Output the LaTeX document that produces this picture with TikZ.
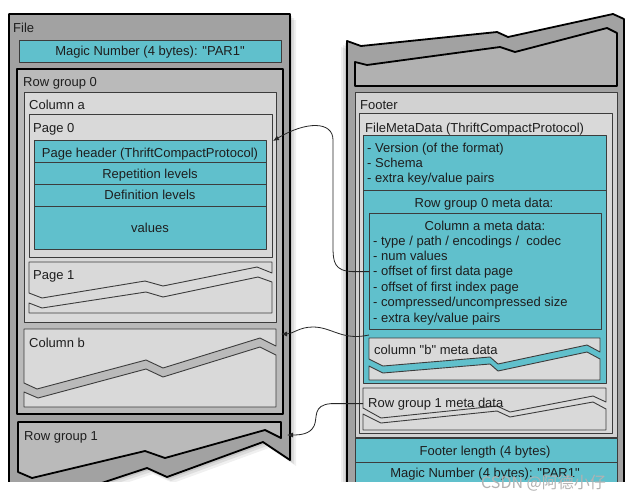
\documentclass[tikz,border=0pt]{standalone}
\usepackage{fontspec}
\setmainfont{Liberation Sans}[Ligatures=TeXOff]
\newfontfamily\cjkfont{Noto Sans CJK SC}
\usetikzlibrary{arrows.meta}
\definecolor{cy}{HTML}{60C0CC}
\definecolor{panelgray}{HTML}{A2A2A2}
\definecolor{rggray}{HTML}{BABABA}
\definecolor{ltgray}{HTML}{D9D9D9}
\definecolor{ftgray}{HTML}{D2D2D2}
\definecolor{edge}{HTML}{3C3C3C}
\definecolor{txt}{HTML}{1E1E1E}
\begin{document}
\begin{tikzpicture}[x=1pt,y=-1pt,
  heavy/.style={draw=black,line width=1.8pt,line join=round},
  light/.style={draw=edge,line width=0.9pt,line join=round},
  rect/.style={rectangle,inner sep=0pt,outer sep=0pt,anchor=north west},
  lbl/.style={anchor=base west,inner sep=0pt,text=txt,font=\fontsize{13}{15}\selectfont},
  clbl/.style={anchor=base,inner sep=0pt,text=txt,font=\fontsize{13}{15}\selectfont},
  conn/.style={draw=black!85,line width=0.8pt,-{Latex[length=6pt,width=5pt]}},
]
\useasboundingbox (0,0) rectangle (633,499);
\fill[white] (0,0) rectangle (633,499);
\begin{scope}
\clip (0,0) rectangle (633,481);
% shadows
\foreach \s/\o in {2/0.10,4/0.08,6/0.06}{
  \fill[black,opacity=\o,shift={(\s,\s)}] (9,14) -- (290,14) -- (290,460) -- (263,442) -- (167,477) -- (147,468) -- (35,505) -- (9,505) -- cycle;
  \fill[black,opacity=\o,shift={(-\s,\s)}] (347,41) -- (361,46) -- (497,32) -- (508,37) -- (613,14) -- (624,19) -- (624,505) -- (347,505) -- cycle;
}
% ===== left panel =====
\path[heavy,fill=panelgray] (9,14) -- (290,14) -- (290,460) -- (263,442) -- (167,477) -- (147,468) -- (35,505) -- (9,505) -- cycle;
\node[lbl] (tfile) at (13,32) {File};
\node[rect,light,fill=cy,minimum width=262,minimum height=22] (magic1) at (19,40) {};
\node[clbl] (tmagic1) at (150,55) {Magic Number (4 bytes): "PAR1"};
\node[rect,heavy,fill=rggray,minimum width=266,minimum height=345] (rg0) at (17,69) {};
\node[lbl] (trg0) at (23,86) {Row group 0};
\node[rect,light,fill=ltgray,minimum width=252,minimum height=230] (cola) at (24,92) {};
\node[lbl] (tcola) at (29,109) {Column a};
\node[rect,light,fill=ltgray,minimum width=243,minimum height=143] (page0) at (29,114) {};
\node[lbl] (tpage0) at (33,132) {Page 0};
\node[rect,light,fill=cy,minimum width=232,minimum height=22] (ph) at (34,140) {};
\node[rect,light,fill=cy,minimum width=232,minimum height=22] (rep) at (34,162) {};
\node[rect,light,fill=cy,minimum width=232,minimum height=22] (def) at (34,184) {};
\node[rect,light,fill=cy,minimum width=232,minimum height=43] (val) at (34,206) {};
\node[clbl] (tph) at (150,157) {Page header (ThriftCompactProtocol)};
\node[clbl] (trep) at (150,178) {Repetition levels};
\node[clbl] (tdef) at (150,199) {Definition levels};
\node[clbl] (tval) at (150,232) {values};
% page 1 (torn)
\node[rect,minimum width=243,minimum height=51] (page1) at (29,262) {};
\path[light,fill=ltgray] (29,262) -- (272,262) -- (272,273) -- (257,267) -- (163,286) -- (145,281) -- (42,298) -- (29,293) -- cycle;
\path[light,fill=ltgray] (29,303) -- (42,308) -- (146,292) -- (163,297) -- (258,277) -- (272,282) -- (272,313) -- (29,313) -- cycle;
\node[lbl] (tpage1) at (33,279) {Page 1};
% column b (torn)
\node[rect,minimum width=252,minimum height=78] (colb) at (24,329) {};
\path[light,fill=ltgray] (24,329) -- (276,329) -- (276,346) -- (260,338) -- (163,368) -- (146,360) -- (37,389) -- (24,383) -- cycle;
\path[light,fill=ltgray] (24,392) -- (38,398) -- (146,369) -- (163,377) -- (260,347) -- (276,355) -- (276,407) -- (24,407) -- cycle;
\node[lbl] (tcolb) at (29,347) {Column b};
% row group 1 (torn)
\node[rect,minimum width=263,minimum height=16] (rg1) at (18,422) {};
\path[heavy,fill=rggray] (18,422) -- (281,422) -- (281,438) -- (265,430) -- (165,458) -- (145,451) -- (32,478) -- (18,472) -- cycle;
\node[lbl] (trg1) at (24,440) {Row group 1};
% ===== right panel =====
\path[heavy,fill=panelgray] (347,41) -- (361,46) -- (497,32) -- (508,37) -- (613,14) -- (624,19) -- (624,505) -- (347,505) -- cycle;
\path[heavy,fill=rggray!95!black] (355,62) -- (367,65) -- (500,47) -- (515,52) -- (607,28) -- (617,33) -- (617,86) -- (355,86) -- cycle;
\node[rect,light,fill=ftgray,minimum width=262,minimum height=345] (footer) at (355,92) {};
\node[lbl] (tfooter) at (360,109) {Footer};
\node[rect,light,fill=ltgray,minimum width=253,minimum height=320] (fmd) at (359,113) {};
\node[lbl] (tfmd) at (365,132) {FileMetaData (ThriftCompactProtocol)};
\node[rect,light,fill=cy,minimum width=243,minimum height=55] (cy1) at (363,135) {};
\node[rect,light,fill=cy,minimum width=243,minimum height=193] (cy2) at (363,190) {};
\node[lbl] (tv1) at (367,152) {- Version (of the format)};
\node[lbl] (tv2) at (367,167) {- Schema};
\node[lbl] (tv3) at (367,182) {- extra key/value pairs};
\node[clbl] (trgm) at (484,207) {Row group 0 meta data:};
\node[rect,light,fill=cy,minimum width=232,minimum height=116] (camd) at (369,213) {};
\node[clbl] (tcam) at (485,230) {Column a meta data:};
\node[lbl] (ta1) at (373,245) {- type / path / encodings / \ codec};
\node[lbl] (ta2) at (373,260) {- num values};
\node[lbl] (ta3) at (373,275) {- offset of first data page};
\node[lbl] (ta4) at (373,291) {- offset of first index page};
\node[lbl] (ta5) at (373,306) {- compressed/uncompressed size};
\node[lbl] (ta6) at (373,322) {- extra key/value pairs};
% column b meta (torn)
\node[rect,minimum width=231,minimum height=42] (cbm) at (369,338) {};
\path[light,fill=ltgray] (369,338) -- (600,338) -- (600,352) -- (587,345) -- (498,364) -- (490,357) -- (383,366) -- (369,359) -- cycle;
\path[light,fill=ltgray] (369,366) -- (383,373) -- (490,364) -- (498,371) -- (587,352) -- (600,359) -- (600,380) -- (369,380) -- cycle;
\node[lbl] (tcbm) at (374,354) {column "b" meta data};
% row group 1 meta (torn)
\node[rect,minimum width=243,minimum height=42] (rg1m) at (363,388) {};
\path[light,fill=ltgray] (363,388) -- (606,388) -- (606,402) -- (593,396) -- (510,412) -- (497,406) -- (381,418) -- (363,408) -- cycle;
\path[light,fill=ltgray] (363,414) -- (381,423) -- (497,411) -- (510,417) -- (593,402) -- (606,409) -- (606,430) -- (363,430) -- cycle;
\node[lbl] (trg1m) at (368,407) {Row group 1 meta data};
\node[rect,light,fill=cy,minimum width=262,minimum height=24] (flen) at (355,438) {};
\node[clbl] (tflen) at (485,455) {Footer length (4 bytes)};
\node[rect,light,fill=cy,minimum width=262,minimum height=30] (magic2) at (355,462) {};
\node[clbl] (tmagic2) at (485,477) {Magic Number (4 bytes): "PAR1"};
% ===== connectors =====
\draw[conn] (camd.west |- ta3) -- ++(-16,0) .. controls (334,271) and (333,262) .. (333,246) -- (333,140) .. controls (333,121) and (306,121) .. ([shift={(1,27)}]page0.north east);
\draw[conn] ([yshift=3]cbm.north west) .. controls (342,341) and (332,327) .. (313,327) .. controls (299,327) and (293,334) .. ([shift={(5,5)}]colb.north east);
\draw[conn] (rg1m.west |- trg1m) -- ++(-32,0) .. controls (312,405) and (318,418) .. (314,426) .. controls (310,434) and (301,435) .. ([shift={(6,13)}]rg1.north east);
\end{scope}
\node[anchor=base west,inner sep=0pt,text=gray!60,font=\cjkfont\fontsize{16}{18}\selectfont] (wm) at (481,488) {CSDN @阿德小仔};
\end{tikzpicture}
\end{document}
